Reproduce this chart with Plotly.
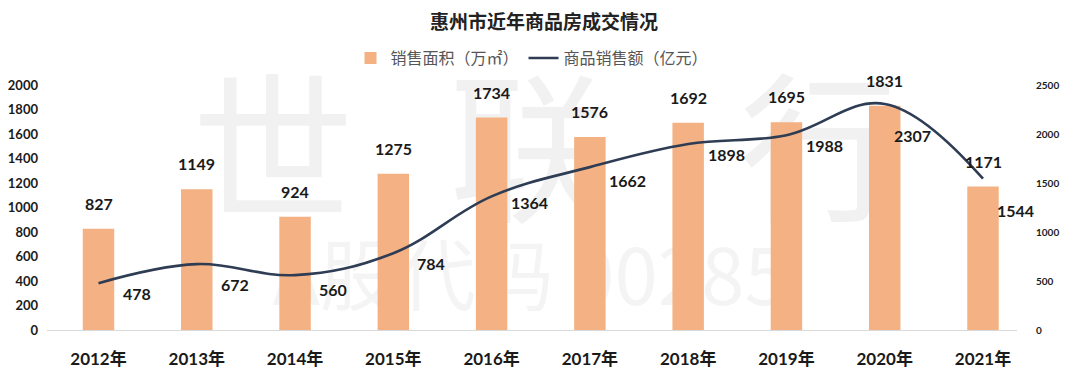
import plotly.graph_objects as go

years = ["2012年", "2013年", "2014年", "2015年", "2016年", "2017年", "2018年", "2019年", "2020年", "2021年"]
area = [827, 1149, 924, 1275, 1734, 1576, 1692, 1695, 1831, 1171]
sales = [478, 672, 560, 784, 1364, 1662, 1898, 1988, 2307, 1544]
left_ticks = [0, 200, 400, 600, 800, 1000, 1200, 1400, 1600, 1800, 2000]
right_ticks = [0, 500, 1000, 1500, 2000, 2500]

# pixel offsets for the line value labels (style only)
lab_dx = [38, 38, 38, 38, 38, 38, 38, 38, 28, 32]
lab_dy = [10, 20, 14, 10, 6, 13, 10, 10, 32, 32]

NUM_FONT = "Lato"
CJK = "Noto Sans CJK SC"
BAR_COLOR = "#F4B183"
LINE_COLOR = "#2E3C54"

fig = go.Figure()
fig.add_trace(go.Bar(
    x=years, y=area, name="销售面积（万㎡）",
    marker=dict(color=BAR_COLOR, line=dict(width=0)),
    width=0.32, yaxis="y",
))
fig.add_trace(go.Scatter(
    x=years, y=sales, name="商品销售额（亿元）", mode="lines",
    line=dict(color=LINE_COLOR, width=2.6, shape="spline", smoothing=1.1),
    yaxis="y2",
))

# faint watermark drawn beneath the data
shapes = []
wm_color = "rgba(0,0,0,0.055)"
for ch, cx in zip(["世", "联", "行"], [0.233, 0.498, 0.797]):
    shapes.append(dict(type="rect", xref="paper", yref="paper", x0=cx - 0.01, x1=cx + 0.01,
                       y0=0.66, y1=0.68, line=dict(width=0), fillcolor="rgba(0,0,0,0)",
                       layer="below",
                       label=dict(text=ch, textposition="middle center",
                                  font=dict(family=CJK, size=162, color=wm_color))))
shapes.append(dict(type="rect", xref="paper", yref="paper", x0=0.488, x1=0.508,
                   y0=0.18, y1=0.2, line=dict(width=0), fillcolor="rgba(0,0,0,0)", layer="below",
                   label=dict(text="A股代码 00285", textposition="middle center",
                              font=dict(family=CJK, size=78, color="rgba(0,0,0,0.045)"))))

annotations = []
for x, v in zip(years, area):
    annotations.append(dict(x=x, y=v, xref="x", yref="y", text=str(v), showarrow=False,
                            yanchor="bottom", yshift=14,
                            font=dict(family=NUM_FONT, size=16, color="#1a1a1a", weight="bold")))
for x, v, dx, dy in zip(years, sales, lab_dx, lab_dy):
    annotations.append(dict(x=x, y=v, xref="x", yref="y2", text=str(v), showarrow=False,
                            xshift=dx, yshift=-dy,
                            font=dict(family=NUM_FONT, size=16, color="#1a1a1a", weight="bold")))

# the page adds an 8px body margin, so the figure is 8px smaller each way
fig.update_layout(
    width=1072, height=369,
    margin=dict(l=39, r=63, t=77, b=47, autoexpand=False),
    paper_bgcolor="white", plot_bgcolor="white",
    title=dict(text="惠州市近年商品房成交情况", x=0.5, xanchor="center", y=0.96, yanchor="middle",
               font=dict(family=CJK, size=19, color="#222222", weight="bold")),
    legend=dict(orientation="h", x=0.5, xanchor="center", y=1.11, yanchor="middle",
                font=dict(family=CJK, size=16, color="#555555"), itemwidth=30,
                traceorder="normal", bgcolor="rgba(0,0,0,0)"),
    showlegend=True,
    bargap=0.6,
    xaxis=dict(type="category", range=[-0.524, 9.346], showgrid=False, showline=True,
               linecolor="#d9d9d9", linewidth=1, ticks="", ticklabelstandoff=14, automargin=False,
               tickfont=dict(family=NUM_FONT + ", " + CJK, size=17, color="#1a1a1a", weight="bold")),
    yaxis=dict(range=[0, 2000], tickvals=left_ticks, showgrid=False, zeroline=False,
               showline=False, ticks="", ticklabelstandoff=8, automargin=False,
               tickfont=dict(family=NUM_FONT, size=13, color="#1a1a1a", weight="bold")),
    yaxis2=dict(range=[0, 2500], tickvals=right_ticks, overlaying="y", side="right",
                showgrid=False, zeroline=False, showline=False, ticks="", ticklabelstandoff=18,
                automargin=False,
                tickfont=dict(family=NUM_FONT, size=10, color="#1a1a1a", weight="bold")),
    shapes=shapes,
    annotations=annotations,
)

fig.write_html("out.html")
